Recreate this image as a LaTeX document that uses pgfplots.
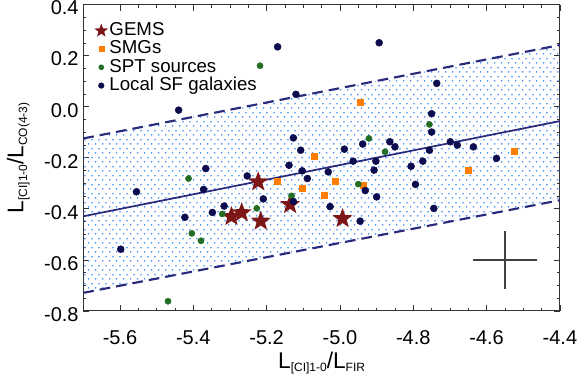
\documentclass[border=0pt]{standalone}
\usepackage{fontspec}
\setmainfont{Liberation Sans}
\usepackage{pgfplots}
\pgfplotsset{compat=1.18}
\usetikzlibrary{patterns}

\definecolor{navyd}{RGB}{12,12,78}
\definecolor{lineblue}{RGB}{42,42,125}
\definecolor{sptgreen}{RGB}{35,110,35}
\definecolor{smgorange}{RGB}{255,125,0}
\definecolor{gemsred}{RGB}{125,22,22}
\definecolor{dotblue}{RGB}{60,140,245}

\pgfdeclarepatternformonly{bluedots}{\pgfqpoint{0pt}{0pt}}{\pgfqpoint{5.5pt}{6.5pt}}{\pgfqpoint{5.5pt}{6.5pt}}{%
  \pgfpathcircle{\pgfqpoint{1.375pt}{1.625pt}}{0.7pt}%
  \pgfpathcircle{\pgfqpoint{4.125pt}{4.875pt}}{0.7pt}%
  \pgfusepath{fill}}

\pgfdeclareplotmark{fstar}{%
  \pgfpathmoveto{\pgfpointpolar{90}{\pgfplotmarksize}}%
  \pgfpathlineto{\pgfpointpolar{126}{0.42\pgfplotmarksize}}%
  \pgfpathlineto{\pgfpointpolar{162}{\pgfplotmarksize}}%
  \pgfpathlineto{\pgfpointpolar{198}{0.42\pgfplotmarksize}}%
  \pgfpathlineto{\pgfpointpolar{234}{\pgfplotmarksize}}%
  \pgfpathlineto{\pgfpointpolar{270}{0.42\pgfplotmarksize}}%
  \pgfpathlineto{\pgfpointpolar{306}{\pgfplotmarksize}}%
  \pgfpathlineto{\pgfpointpolar{342}{0.42\pgfplotmarksize}}%
  \pgfpathlineto{\pgfpointpolar{18}{\pgfplotmarksize}}%
  \pgfpathlineto{\pgfpointpolar{54}{0.42\pgfplotmarksize}}%
  \pgfpathclose\pgfusepathqfill}

\newcommand{\Lsub}[1]{{\fontsize{17}{20}\selectfont L}\raisebox{-0.28em}{\fontsize{9}{10}\selectfont #1}}

\begin{document}
\begin{tikzpicture}
\useasboundingbox (-62.5pt,-55.5pt) rectangle (371.8pt,233.25pt);
\begin{axis}[
  at={(0,0)}, anchor=south west,
  scale only axis, width=357.5pt, height=229.7pt,
  xmin=-5.7, xmax=-4.4, ymin=-0.8, ymax=0.4,
  xtick={-5.6,-5.4,-5.2,-5.0,-4.8,-4.6,-4.4},
  ytick={-0.8,-0.6,-0.4,-0.2,0.0,0.2,0.4},
  minor x tick num=3, minor y tick num=3,
  tick align=inside,
  major tick length=4.5pt, minor tick length=2.3pt,
  tick style={black!80, line width=0.6pt},
  axis line style={black!80, line width=0.75pt},
  /pgf/number format/fixed, /pgf/number format/fixed zerofill,
  /pgf/number format/precision=1, /pgf/number format/assume math mode=true,
  tick label style={font=\fontsize{15}{18}\selectfont},
  xticklabel style={yshift=-11pt},
  yticklabel style={yshift=-2.5pt},
  xlabel={\Lsub{[CI]1-0}{\fontsize{17}{20}\selectfont /}\Lsub{FIR}},
  ylabel={\Lsub{[CI]1-0}{\fontsize{17}{20}\selectfont /}\Lsub{CO(4-3)}},
  xlabel style={yshift=1.5pt},
  ylabel style={yshift=4pt},
  legend style={at={(rel axis cs:0.02,0.95)}, anchor=north west, draw=none, fill=none,
    font=\fontsize{14}{16}\selectfont, row sep=0pt, inner sep=1pt,
    nodes={text height=9.5pt, text depth=2.2pt, inner sep=1pt}},
  legend cell align=left,
]
% shaded band
\addplot[draw=none, pattern=bluedots, pattern color=dotblue, forget plot]
  coordinates {(-5.7,-0.729) (-4.4,-0.366) (-4.4,0.242) (-5.7,-0.124)} -- cycle;
\addplot[lineblue, line width=1.3pt, forget plot] coordinates {(-5.7,-0.429) (-4.4,-0.056)};
\addplot[lineblue, line width=1.6pt, dash pattern=on 8pt off 4.5pt, forget plot] coordinates {(-5.7,-0.124) (-4.4,0.242)};
\addplot[lineblue, line width=1.6pt, dash pattern=on 8pt off 4.5pt, forget plot] coordinates {(-5.7,-0.729) (-4.4,-0.366)};
% error cross
\addplot[black!75, mark=none, forget plot, line width=0.9pt,
  error bars/.cd, x dir=both, x explicit, y dir=both, y explicit,
  error bar style={black!75, line width=0.9pt},
  error mark options={black!75, mark size=2.3pt, line width=0.9pt}]
  coordinates {(-4.55,-0.6) +- (0.08,0.1)};
% GEMS
\addplot[only marks, mark=fstar, mark size=7.9pt, color=gemsred, mark options={fill=gemsred, draw=none},
  legend image post style={mark size=5.4pt}]
  coordinates {(-5.223,-0.294) (-5.136,-0.383) (-5.296,-0.430) (-5.268,-0.415) (-5.216,-0.448) (-4.993,-0.438)};
\addlegendentry{GEMS}
% SMGs
\addplot[only marks, mark=square*, mark size=2.25pt, color=smgorange, mark options={fill=smgorange, draw=none},
  legend image post style={mark size=1.9pt}]
  coordinates {(-4.944,0.016) (-5.071,-0.192) (-4.524,-0.173) (-5.171,-0.290) (-5.103,-0.320)
   (-5.014,-0.291) (-5.044,-0.346) (-4.936,-0.307) (-4.651,-0.248)};
\addlegendentry{SMGs}
% SPT
\addplot[only marks, mark=*, mark size=2.3pt, color=sptgreen, mark options={fill=sptgreen, draw=none},
  legend image post style={mark size=1.9pt}]
  coordinates {(-5.218,0.161) (-4.921,-0.124) (-4.877,-0.176) (-4.756,-0.069) (-4.950,-0.303)
   (-5.132,-0.349) (-5.227,-0.398) (-5.413,-0.281) (-5.321,-0.420) (-5.404,-0.496)
   (-5.379,-0.525) (-5.469,-0.762)};
\addlegendentry{SPT sources}
% Local SF galaxies
\addplot[only marks, mark=*, mark size=2.6pt, color=navyd, mark options={fill=navyd, draw=none},
  legend image post style={mark size=2.1pt}]
  coordinates {(-5.44,-0.013) (-5.170,0.235) (-4.893,0.251) (-5.120,0.049) (-5.127,-0.122)
   (-5.107,-0.170) (-4.988,-0.166) (-4.938,-0.146) (-4.864,-0.137) (-4.850,-0.157)
   (-4.736,0.092) (-4.750,-0.027) (-4.750,-0.099) (-4.699,-0.137) (-4.680,-0.150)
   (-4.636,-0.157) (-4.756,-0.170) (-4.573,-0.202) (-5.139,-0.229) (-5.103,-0.251)
   (-5.032,-0.255) (-4.964,-0.213) (-4.902,-0.213) (-4.907,-0.248) (-5.253,-0.271)
   (-5.089,-0.281) (-4.931,-0.328) (-4.900,-0.353) (-5.209,-0.361) (-5.127,-0.371)
   (-5.027,-0.391) (-4.945,-0.448) (-5.366,-0.242) (-5.555,-0.333) (-5.372,-0.324)
   (-5.316,-0.389) (-5.348,-0.414) (-5.423,-0.433) (-5.598,-0.558) (-4.806,-0.233)
   (-4.774,-0.213) (-4.794,-0.304) (-4.744,-0.398)};
\addlegendentry{Local SF galaxies}
\end{axis}
\end{tikzpicture}
\end{document}
